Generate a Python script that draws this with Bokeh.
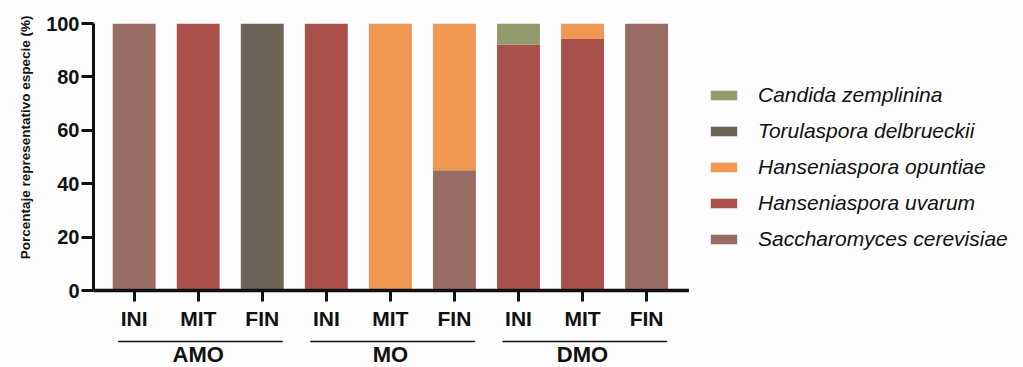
from bokeh.plotting import figure
from bokeh.models import ColumnDataSource, FixedTicker, Legend, LegendItem, Range1d, Title
from bokeh.layouts import column, row
from bokeh.embed import file_html
from bokeh.resources import INLINE
from bokeh.core.properties import value

# --- data -------------------------------------------------------------
groups = ["AMO", "MO", "DMO"]
stages = ["INI", "MIT", "FIN"]

species = [
    "Saccharomyces cerevisiae",
    "Hanseniaspora uvarum",
    "Hanseniaspora opuntiae",
    "Torulaspora delbrueckii",
    "Candida zemplinina",
]
colors = ["#986c65", "#a9504a", "#f09752", "#6b6557", "#939a6b"]

# percentage of each species per sample (AMO INI..FIN, MO INI..FIN, DMO INI..FIN)
s_cerevisiae = [100, 0, 0, 0, 0, 45, 0, 0, 100]
h_uvarum = [0, 100, 0, 100, 0, 0, 92, 94.4, 0]
h_opuntiae = [0, 0, 0, 0, 100, 55, 0, 5.6, 0]
t_delbrueckii = [0, 0, 100, 0, 0, 0, 0, 0, 0]
c_zemplinina = [0, 0, 0, 0, 0, 0, 8, 0, 0]

y_ticks = [0, 20, 40, 60, 80, 100]
y_title = "Porcentaje representativo especie (%)"

# --- layout constants -------------------------------------------------
FONT = "Liberation Sans"
BG = "#fdfdfd"
INK = "#111111"
TOTAL_W, TOTAL_H = 1023, 367
LEFT = 93
LEGEND_W = 334
PLOT_W = TOTAL_W - LEGEND_W
MAIN_H, STRIP_H = 335, 32


def bare(fig):
    fig.background_fill_color = BG
    fig.border_fill_color = BG
    fig.outline_line_color = None
    fig.grid.visible = False


n_stage = len(stages)
xs = list(range(len(groups) * n_stage))
tick_labels = stages * len(groups)
keys = ["sc", "hu", "ho", "td", "cz"]

source = ColumnDataSource(dict(
    x=xs,
    sc=s_cerevisiae,
    hu=h_uvarum,
    ho=h_opuntiae,
    td=t_delbrueckii,
    cz=c_zemplinina,
))

x_range = Range1d(-0.635, xs[-1] + 0.67)

# --- stacked bars -----------------------------------------------------
p = figure(
    width=PLOT_W, height=MAIN_H,
    x_range=x_range, y_range=Range1d(0, 100),
    output_backend="svg", toolbar_location=None,
    min_border_left=LEFT, min_border_right=0,
    min_border_top=23, min_border_bottom=45,
)
bare(p)

p.vbar_stack(
    keys, x="x", width=0.67, source=source,
    fill_color=colors, line_color=None,
)

# y axis
ya = p.yaxis[0]
ya.ticker = FixedTicker(ticks=y_ticks)
ya.major_label_text_font = FONT
ya.major_label_text_font_style = "bold"
ya.major_label_text_font_size = "20px"
ya.major_label_text_color = INK
ya.major_label_standoff = 2
ya.major_tick_out = 12
ya.major_tick_in = 0
ya.major_tick_line_width = 3
ya.major_tick_line_color = INK
ya.minor_tick_line_color = None
ya.axis_line_width = 3
ya.axis_line_color = INK

# y axis title, anchored near the top of the axis
p.add_layout(Title(
    text=y_title, align="right", offset=-8, standoff=21,
    text_font=FONT, text_font_style="bold", text_font_size="13.5px",
    text_color=INK,
), "left")

# x axis
xa = p.xaxis[0]
xa.ticker = FixedTicker(ticks=xs)
xa.major_label_overrides = {i: lab for i, lab in zip(xs, tick_labels)}
xa.major_label_text_font = FONT
xa.major_label_text_font_style = "bold"
xa.major_label_text_font_size = "21px"
xa.major_label_text_color = INK
xa.major_label_standoff = 5
xa.major_tick_out = 11
xa.major_tick_in = 0
xa.major_tick_line_width = 3
xa.major_tick_line_color = INK
xa.minor_tick_line_color = None
xa.axis_line_width = 3.5
xa.axis_line_color = INK

# --- group labels strip under the axis --------------------------------
g = figure(
    width=PLOT_W, height=STRIP_H,
    x_range=x_range, y_range=Range1d(0, STRIP_H),
    output_backend="svg", toolbar_location=None,
    min_border_left=LEFT, min_border_right=0,
    min_border_top=0, min_border_bottom=0,
)
bare(g)
g.axis.visible = False

first = [k * n_stage for k in range(len(groups))]
last = [k * n_stage + n_stage - 1 for k in range(len(groups))]
centers = [(a + b) / 2 for a, b in zip(first, last)]

g.segment(
    x0=[a - 0.25 for a in first], x1=[b + 0.32 for b in last],
    y0=26, y1=26, line_color=INK, line_width=1.5,
)
g.text(
    x=centers, y=[13] * len(groups), text=groups,
    text_font=value(FONT), text_font_style="bold", text_font_size="22px",
    text_align="center", text_baseline="alphabetic", text_color=INK,
)

# --- legend panel, top entry is the top of the stack ------------------
lg = figure(
    width=LEGEND_W, height=TOTAL_H,
    x_range=Range1d(0, 1), y_range=Range1d(0, 1),
    output_backend="svg", toolbar_location=None,
    min_border_left=0, min_border_right=0,
    min_border_top=0, min_border_bottom=0,
)
bare(lg)
lg.axis.visible = False

# swatch renderers sit outside the visible range; only their legend glyphs show
swatches = [lg.vbar(x=[-5], top=[-5], bottom=[-6], width=1,
                    fill_color=c, line_color=None)
            for c in colors]
legend = Legend(
    items=[LegendItem(label=species[i], renderers=[swatches[i]])
           for i in reversed(range(len(species)))],
    location=(18, 116),
    glyph_width=33, glyph_height=12,
    label_standoff=18, spacing=12,
    padding=0, margin=0,
    border_line_color=None, background_fill_alpha=0,
    label_text_font=FONT, label_text_font_style="italic",
    label_text_font_size="21px", label_text_color=INK,
)
lg.add_layout(legend, "center")

layout = row(column(p, g, spacing=0), lg, spacing=0)
open("out.html", "w").write(file_html(layout, INLINE))
